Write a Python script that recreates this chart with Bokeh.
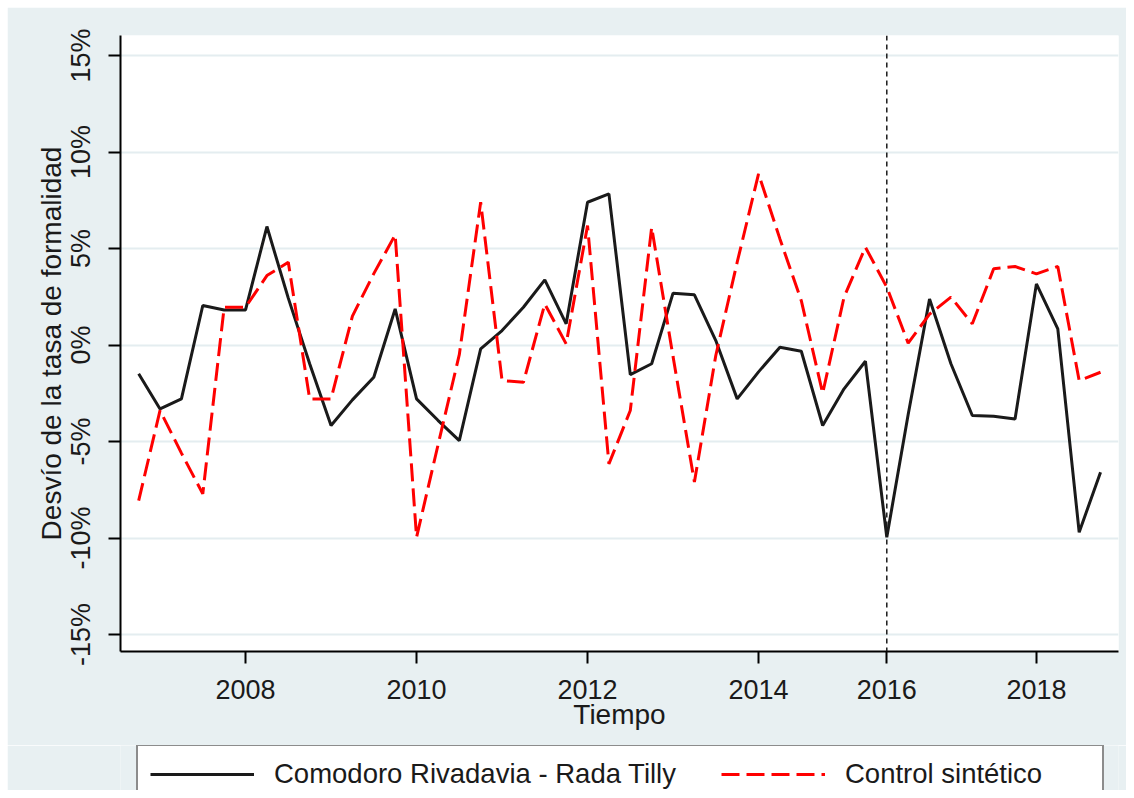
from bokeh.plotting import figure
from bokeh.layouts import column
from bokeh.models import (Range1d, FixedTicker, Span, Legend, LegendItem,
                          ColumnDataSource)
from bokeh.embed import file_html
from bokeh.resources import INLINE

# ---- data (percent deviation) ----
periodo = list(range(46))
comodoro = [-1.49, -3.31, -2.79, 2.05, 1.82, 1.82, 6.14, 2.43, -0.97, -4.17,
            -2.84, -1.67, 1.87, -2.79, -3.9, -4.95, -0.2, 0.75, 1.96, 3.38,
            1.1, 7.4, 7.83, -1.53, -0.97, 2.69, 2.6, 0.23, -2.79, -1.39,
            -0.11, -0.32, -4.17, -2.27, -0.84, -9.96, -3.6, 2.39, -0.97, -3.65,
            -3.69, -3.83, 3.17, 0.84, -9.7, -6.59]
sintetico = [-8.06, -3.39, -5.6, -7.71, 1.96, 1.96, 3.6, 4.29, -2.79, -2.79,
             1.5, 3.7, 5.71, -9.96, -5.2, -0.5, 7.4, -1.84, -1.93, 2.13,
             0.06, 6.19, -6.16, -3.39, 6.1, -0.6, -7.1, -0.54, 4.29, 8.87,
             5.5, 2.3, -2.5, 2.48, 5.07, 3.0, 0.1, 1.6, 2.48, 1.1,
             3.95, 4.07, 3.69, 4.07, -1.84, -1.41]
x_tick_pos = [5, 13, 21, 29, 35, 42]
x_tick_labels = ["2008", "2010", "2012", "2014", "2016", "2018"]
y_tick_vals = [-15, -10, -5, 0, 5, 10, 15]
y_tick_labels = ["-15%", "-10%", "-5%", "0%", "5%", "10%", "15%"]
tratamiento = 35
serie_names = ["Comodoro Rivadavia - Rada Tilly", "Control sintético"]

FONT = "Liberation Sans"
TXT = "#1a1a1a"
BG = "#E8F0F2"
BLACK_STYLE = dict(line_color="#1a1a1a", line_width=3)
RED_STYLE = dict(line_color="#ff0000", line_width=3, line_dash="18 7")

src = ColumnDataSource(dict(t=periodo, a=comodoro, b=sintetico))

p = figure(width=1119, height=738, output_backend="svg", toolbar_location=None,
           x_range=Range1d(-0.85, 45.84), y_range=Range1d(-15.88, 16.04),
           min_border_left=113, min_border_right=8, min_border_top=28,
           min_border_bottom=94)
p.margin = (7, 0, 0, 7)
p.border_fill_color = BG
p.background_fill_color = "white"
p.outline_line_color = None

# grid
p.xgrid.grid_line_color = None
p.ygrid.grid_line_color = "#E4EDF0"
p.ygrid.grid_line_width = 2
p.ygrid.ticker = FixedTicker(ticks=y_tick_vals)

# y axis
p.yaxis.ticker = FixedTicker(ticks=y_tick_vals)
p.yaxis.major_label_overrides = {v: l for v, l in zip(y_tick_vals, y_tick_labels)}
p.yaxis.major_label_orientation = "parallel"
p.yaxis.axis_label = "Desvío de la tasa de formalidad"

# x axis
p.xaxis.ticker = FixedTicker(ticks=x_tick_pos)
p.xaxis.major_label_overrides = {v: l for v, l in zip(x_tick_pos, x_tick_labels)}
p.xaxis.axis_label = "Tiempo"

for ax in (p.xaxis[0], p.yaxis[0]):
    ax.axis_line_color = "black"
    ax.axis_line_width = 2
    ax.major_tick_line_color = "black"
    ax.major_tick_line_width = 2
    ax.major_tick_out = 12
    ax.major_tick_in = 0
    ax.minor_tick_line_color = None
    ax.major_label_text_font = FONT
    ax.major_label_text_font_size = "27px"
    ax.major_label_text_color = TXT
    ax.axis_label_text_font = FONT
    ax.axis_label_text_font_size = "28px"
    ax.axis_label_text_font_style = "normal"
    ax.axis_label_text_color = TXT

p.xaxis.major_label_standoff = 16
p.xaxis.axis_label_standoff = -3
p.yaxis.major_label_standoff = 12
p.yaxis.axis_label_standoff = -3

p.line("t", "a", source=src, **BLACK_STYLE)
p.line("t", "b", source=src, **RED_STYLE)

p.add_layout(Span(location=tratamiento, dimension="height", line_color="#1a1a1a",
                  line_width=1.5, line_dash="5 4"))

# ---- legend strip (separate figure below the chart) ----
q = figure(width=1119, height=45, output_backend="svg", toolbar_location=None,
           x_range=Range1d(1000, 1001), y_range=Range1d(1000, 1001),
           min_border_left=0, min_border_right=0, min_border_top=0,
           min_border_bottom=0)
q.margin = (0, 0, 0, 7)
q.axis.visible = False
q.grid.visible = False
q.outline_line_color = None
q.background_fill_color = BG
q.border_fill_color = BG
lr1 = q.line("t", "a", source=src, **BLACK_STYLE)
lr2 = q.line("t", "b", source=src, **RED_STYLE)

legend = Legend(items=[LegendItem(label=serie_names[0], renderers=[lr1]),
                       LegendItem(label=serie_names[1], renderers=[lr2])],
                orientation="horizontal", location=(16, -14),
                padding=12, spacing=45, margin=0,
                glyph_width=104, glyph_height=28, label_standoff=20,
                label_width=245, label_height=28,
                label_text_font=FONT, label_text_font_size="27.5px",
                label_text_color=TXT,
                border_line_color="#1a1a1a", border_line_width=2,
                background_fill_color="white", background_fill_alpha=1)
q.add_layout(legend, "center")

layout = column(p, q, spacing=0)
open("out.html", "w").write(file_html(layout, INLINE))
